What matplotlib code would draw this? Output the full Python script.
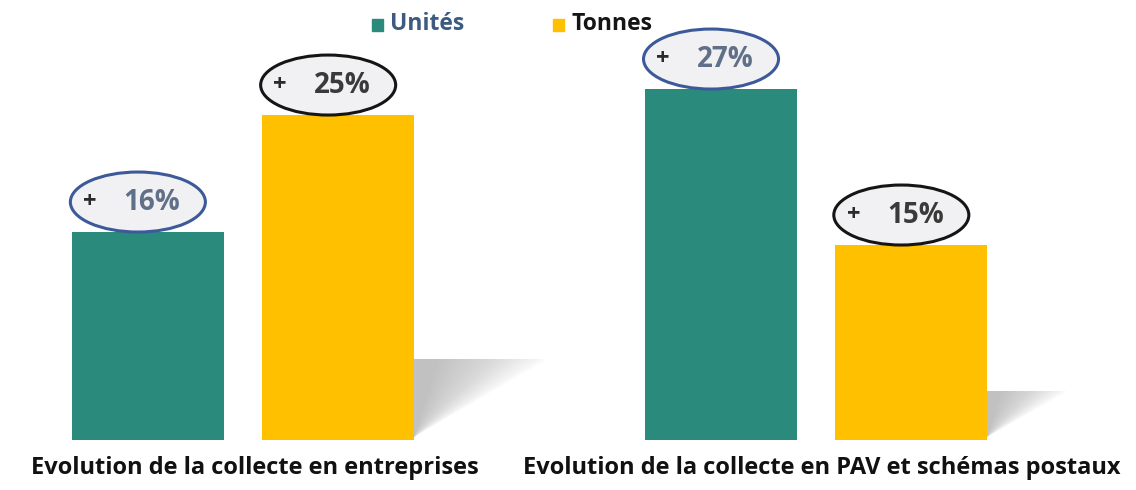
import matplotlib.pyplot as plt
from matplotlib.patches import Ellipse, Polygon

# data
groups = ["Evolution de la collecte en entreprises",
          "Evolution de la collecte en PAV et schémas postaux"]
series = ["Unités", "Tonnes"]
unites = [16, 27]
tonnes = [25, 15]

TEAL = "#2a8a7b"
YELLOW = "#ffc000"
EDGE = {"Unités": "#3c5a99", "Tonnes": "#151515"}
PCT_COLOR = {"Unités": "#5f7088", "Tonnes": "#3a3a3a"}

plt.rcParams["font.family"] = ["Open Sans", "DejaVu Sans"]

fig = plt.figure(figsize=(11.36, 4.9), dpi=100)
ax = fig.add_axes([0, 50 / 490, 1, 440 / 490])
ax.set_xlim(-0.424, 1.558)
ax.set_ylim(0, 33.85)
ax.axis("off")

offset = 0.166
width = 0.265
px_x = 1 / 573  # one pixel in x data units (approx)
px_y = 1 / 13

for values, name, color, sign in [(unites, "Unités", TEAL, -1), (tonnes, "Tonnes", YELLOW, 1)]:
    for i, v in enumerate(values):
        xc = i + sign * offset
        # soft shadow to the right of the yellow bars, fading away from the bar
        if name == "Tonnes":
            x0 = xc + width / 2
            sh_h = 0.24 * v
            sh_w = 0.0085 * v * 1.1
            n = 24
            for k in range(n):
                s = 1 - 0.85 * k / n
                sh = Polygon([(x0, 0.2), (x0, 0.2 + sh_h),
                              (x0 + sh_w * s, 0.2 + sh_h)],
                             closed=True, facecolor="#9a9a9a", edgecolor="none",
                             alpha=0.03, zorder=1)
                ax.add_patch(sh)
        ax.bar(xc, v, width=width, color=color, zorder=2)
        # ellipse label
        ex = xc - 10 * px_x
        ey = v + 30 * px_y
        ax.add_patch(Ellipse((ex, ey), 135 * px_x, 60 * px_y, facecolor="#f1f1f3",
                             edgecolor=EDGE[name], linewidth=2.2, zorder=3))
        ax.text(ex - 48 * px_x, ey, "+", fontsize=17, fontweight="bold",
                color="#2a2a2a", ha="center", va="center", zorder=4)
        ax.text(xc + 4 * px_x, ey, f"{v}%", fontsize=20, fontweight="bold",
                color=PCT_COLOR[name], ha="center", va="center", zorder=4)

# category labels
for i, g in enumerate(groups):
    fig.text((255 + 567 * i) / 1136, 22 / 490, g, fontsize=17, fontweight="bold",
             color="#111111", ha="center", va="center")

# legend
fig.patches.append(plt.Rectangle((372 / 1136, 1 - 31 / 490), 11 / 1136, 12 / 490,
                                 transform=fig.transFigure, color=TEAL, figure=fig))
fig.text(390 / 1136, 1 - 24 / 490, series[0], fontsize=16.5, fontweight="bold",
         color="#3d5a80", va="center")
fig.patches.append(plt.Rectangle((553 / 1136, 1 - 31 / 490), 11 / 1136, 12 / 490,
                                 transform=fig.transFigure, color=YELLOW, figure=fig))
fig.text(571 / 1136, 1 - 24 / 490, series[1], fontsize=16.5, fontweight="bold",
         color="#151515", va="center")

fig.savefig("out.png", dpi=100, facecolor="white")
